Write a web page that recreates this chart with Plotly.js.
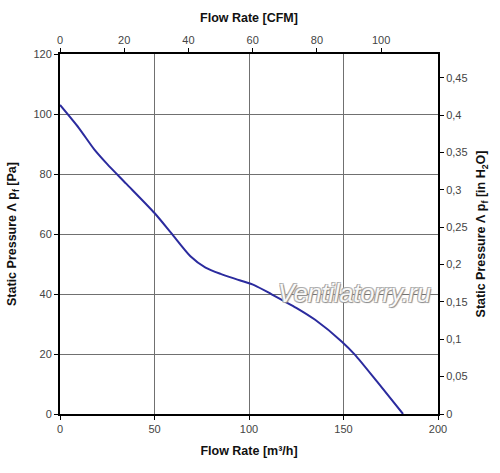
<!DOCTYPE html>
<html>
<head>
<meta charset="utf-8">
<script src="https://cdn.plot.ly/plotly-3.0.1.min.js"></script>
<style>html,body{margin:0;padding:0;background:#fff;}#chart{width:500px;height:473px;}</style>
</head>
<body>
<div id="chart"></div>
<script>
// Flow rate in m³/h and static pressure in Pa
var flowM3h = [0, 10, 18, 25, 35, 50, 59, 69, 77, 85, 95, 103, 112, 125, 135, 149, 156, 168, 181.5];
var pressurePa = [103, 95.3, 88.3, 83.3, 76.8, 67, 60.2, 52.6, 48.8, 46.7, 44.6, 42.9, 39.9, 35.4, 31.4, 24.2, 19.8, 10.6, 0];

var M3H_PER_CFM = 1.699;
var PA_PER_INH2O = 249.09;

var xTicks = [0, 50, 100, 150, 200];
var yTicks = [0, 20, 40, 60, 80, 100, 120];
var cfmTicks = [0, 20, 40, 60, 80, 100];
var inH2OTicks = [0, 0.05, 0.1, 0.15, 0.2, 0.25, 0.3, 0.35, 0.4, 0.45];

var xMax = 200, yMax = 120;

var tickFont = {family: 'Liberation Sans, Arial, sans-serif', size: 11, color: '#444'};
var titleFont = {family: 'Liberation Sans, Arial, sans-serif', size: 12.5, color: '#111', weight: 'bold'};

var traces = [
  {
    x: flowM3h, y: pressurePa, type: 'scatter', mode: 'lines',
    line: {color: '#2b2b9e', width: 2, shape: 'spline', smoothing: 0.7}, xaxis: 'x', yaxis: 'y', hoverinfo: 'skip'
  },
  {
    x: flowM3h.map(function (v) { return v / M3H_PER_CFM; }),
    y: pressurePa.map(function (v) { return v / PA_PER_INH2O; }),
    type: 'scatter', mode: 'lines', opacity: 0,
    line: {color: '#2b2b9e', width: 0}, xaxis: 'x2', yaxis: 'y2', hoverinfo: 'skip', showlegend: false
  }
];

var layout = {
  width: 500, height: 473,
  margin: {l: 60, r: 62, t: 54, b: 59},
  paper_bgcolor: '#fff', plot_bgcolor: '#fff',
  showlegend: false,
  separators: ', ',
  xaxis: {
    range: [0, xMax], tickvals: xTicks, ticks: 'outside', ticklen: 4, tickcolor: '#000',
    showgrid: true, gridcolor: '#707070', gridwidth: 1,
    showline: true, linecolor: '#000', linewidth: 2, zeroline: false,
    tickfont: tickFont,
    title: {text: 'Flow Rate [m³/h]', font: titleFont, standoff: 12}
  },
  yaxis: {
    range: [0, yMax], tickvals: yTicks, ticks: 'outside', ticklen: 4, tickcolor: '#000',
    showgrid: true, gridcolor: '#707070', gridwidth: 1,
    showline: true, linecolor: '#000', linewidth: 2, zeroline: false,
    tickfont: tickFont,
    title: {text: 'Static Pressure Λ p<sub>f</sub> [Pa]', font: titleFont, standoff: 14}
  },
  xaxis2: {
    overlaying: 'x', side: 'top', anchor: 'y',
    range: [0, xMax / M3H_PER_CFM], tickvals: cfmTicks, ticks: 'outside', ticklen: 4, tickcolor: '#000',
    showgrid: false, showline: true, linecolor: '#000', linewidth: 2, zeroline: false,
    tickfont: tickFont,
    title: {text: 'Flow Rate [CFM]', font: titleFont, standoff: 8}
  },
  yaxis2: {
    overlaying: 'y', side: 'right', anchor: 'x',
    range: [0, yMax / PA_PER_INH2O], tickvals: inH2OTicks, ticks: 'outside', ticklen: 4, tickcolor: '#000',
    showgrid: false, showline: true, linecolor: '#000', linewidth: 2, zeroline: false,
    tickfont: tickFont,
    title: {text: 'Static Pressure Λ p<sub>f</sub> [in H<sub>2</sub>O]', font: titleFont, standoff: 10}
  },
  annotations: [
    {
      text: 'Ventilatorry.ru', xref: 'x', yref: 'y', x: 156, y: 40.5, showarrow: false,
      font: {family: 'Liberation Sans, Arial, sans-serif', size: 25, style: 'italic', color: 'rgba(255,255,255,0.95)',
             shadow: '1px 1px 1px #888, -1px -1px 0px #aaa, 1px -1px 0px #bbb, -1px 1px 0px #bbb'}
    }
  ]
};

Plotly.newPlot('chart', traces, layout, {displayModeBar: false, staticPlot: true});
</script>
</body>
</html>
